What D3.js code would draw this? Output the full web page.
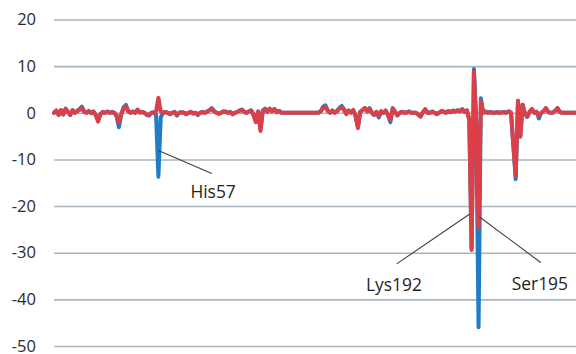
<!DOCTYPE html>
<html>
<head>
<meta charset="utf-8">
<script src="https://cdn.jsdelivr.net/npm/d3@7"></script>
<style>
  html, body { margin: 0; padding: 0; background: #fff; }
  svg { display: block; }
</style>
</head>
<body>
<div id="chart"></div>
<script>
// Residue numbers (x axis, chymotrypsin numbering) 12..240
const residueStart = 12;
// Series 1 (blue)
const seriesBlue = [
  // 12-21
  0, 0.4, -0.5, 0.5, -0.4, 0.9, 0.2, -0.5, 0.6, 0,
  // 22-31
  0.4, 0.8, 1.3, 0.3, 0, 0.4, -0.1, 0.3, -0.5, -1.6,
  // 32-41
  -0.3, 0.1, 0, 0.3, 0, 0.2, 0, -0.8, -3.1, -0.4,
  // 42-51
  1.2, 1.7, 0.4, 0, 0.3, 0, 0.7, 0.1, 0.2, 0,
  // 52-61
  -0.5, -0.6, 0, 0.1, -0.5, -13.7, -1.0, 0, 0.2, 0,
  // 62-71
  -0.3, 0, 0.2, -0.6, 0, 0.1, 0, -0.3, 0, 0.2,
  // 72-81
  -0.2, 0, -0.5, 0, 0.2, 0, 0.3, 0.6, 1.0, 0.4,
  // 82-91
  0, -0.2, 0, 0.3, 0.3, 0, 0.2, -0.3, 0, 0.2,
  // 92-101
  0.5, 0.7, 0.2, 0, 0.3, 0.5, -0.4, -1.8, 0.3, -3.6,
  // 102-111
  0.5, 0.9, 0.3, 0.9, 0.4, 0.8, 0.2, 0.4, 0, 0,
  // 112-121
  0, 0, 0, 0, 0, 0, 0, 0, 0, 0,
  // 122-131
  0, 0, 0, 0, 0, 0.4, 1.3, 1.6, 0.5, 0,
  // 132-141
  0.5, 0, 0.4, 1.0, 1.5, 0.8, -0.2, 0.5, 0.1, 0.5,
  // 142-151
  -0.6, -3.0, 0.2, 0.6, 1.0, 0.3, 1.0, 0, -0.5, 0.2,
  // 152-161
  -1.0, 0.3, 0, 0.5, -0.6, -2.0, 1.0, 0.2, -0.6, 0,
  // 162-171
  0.2, 0, 0.1, 0.3, 0, 0, 0, -0.4, -0.8, 0.1,
  // 172-181
  0.8, 0, 0, 0.3, 0, -0.3, 0, 0.4, 0.3, 0,
  // 182-191
  0.4, 0.2, 0.5, 0.3, 0.5, 0.4, 0.8, 0.2, 0.5, -1.5,
  // 192-201
  -29.0, 9.4, -2.0, -46.0, 3.1, 0, 0.3, 0, 0.2, 0,
  // 202-211
  0, 0.1, 0, 0.1, 0.2, 0, 0.3, 0, -7.0, -14.2,
  // 212-221
  2.6, -5.1, 1.7, -0.2, -0.9, 0.2, 0.8, 0, 0.2, -1.2,
  // 222-231
  0, 0.3, 1.0, 0.2, 0, 0, 0.4, 1.0, 0.2, 0,
  // 232-240
  0, 0, 0, 0, 0, 0, 0, 0, 0
];
// Series 2 (red)
const seriesRed = [
  // 12-21
  0, 0.5, -0.4, 0.6, -0.3, 0.8, 0.2, -0.4, 0.5, 0,
  // 22-31
  0.3, 0.6, 1.0, 0.2, 0, 0.3, 0, 0.2, -0.5, -1.9,
  // 32-41
  -0.3, 0.2, 0, 0.2, 0, 0.1, 0, -0.6, -2.1, -0.2,
  // 42-51
  0.8, 1.4, 0.3, 0, 0.2, 0, 0.6, 0, 0.1, 0,
  // 52-61
  -0.3, -0.5, 0, 0, 0.3, 3.2, 0.3, 0, 0.1, 0,
  // 62-71
  -0.2, 0, 0.1, -0.4, 0, 0.1, 0, -0.2, 0, 0.2,
  // 72-81
  -0.1, 0, -0.3, 0, 0.1, 0, 0.2, 0.5, 0.8, 0.3,
  // 82-91
  0, -0.2, 0, 0.3, 0.2, 0, 0.1, -0.3, 0, 0.2,
  // 92-101
  0.4, 0.6, 0.2, 0, 0.3, 0.5, -0.5, -2.0, 0.2, -3.9,
  // 102-111
  0.3, 0.8, 0.2, 0.7, 0.3, 0.8, 0.1, 0.4, 0, 0,
  // 112-121
  0, 0, 0, 0, 0, 0, 0, 0, 0, 0,
  // 122-131
  0, 0, 0, 0, 0, 0.3, 1.0, 1.3, 0.4, 0,
  // 132-141
  0.4, 0, 0.3, 0.9, 1.2, 0.6, -0.3, 0.4, 0, 0.6,
  // 142-151
  -0.8, -3.3, 0.2, 0.6, 1.0, 0.3, 0.9, 0, -0.4, 0.2,
  // 152-161
  -0.7, 0.3, 0, 0.4, -0.5, -1.5, 0.9, 0.2, -0.5, 0,
  // 162-171
  0.2, 0, 0, 0.2, 0, 0, 0, -0.3, -0.8, 0.1,
  // 172-181
  0.7, 0, 0, 0.2, 0, -0.2, 0, 0.3, 0.2, 0,
  // 182-191
  0.3, 0.1, 0.4, 0.3, 0.5, 0.3, 0.7, 0.2, 0.5, -1.5,
  // 192-201
  -29.4, 8.8, -2.0, -24.7, 2.5, 0, 0.2, 0, 0.1, 0,
  // 202-211
  0, 0.1, 0, 0, 0.1, 0, 0.3, 0, -7.0, -13.5,
  // 212-221
  2.6, -5.1, 1.7, -0.2, -0.8, 0.2, 0.8, 0, 0.2, -0.6,
  // 222-231
  0, 0.3, 1.0, 0.2, 0, 0, 0.4, 1.0, 0.2, 0,
  // 232-240
  0, 0, 0, 0, 0, 0, 0, 0, 0
];
const yTicks = [20, 10, 0, -10, -20, -30, -40, -50];
const annotations = [
  { label: "His57",  ax: 57,    ay: -8.1,  bx: 80,    by: -13.0, tx: 70.8,  ty: -18.3 },
  { label: "Lys192", ax: 191.2, ay: -21.7, bx: 159.7, by: -32.4, tx: 146.5, ty: -38.2 },
  { label: "Ser195", ax: 195.3, ay: -22.3, bx: 221.8, by: -32.1, tx: 209.3, ty: -37.9 }
];

const W = 576, H = 354;
const svg = d3.select("#chart").append("svg").attr("width", W).attr("height", H);

const x = d3.scaleLinear().domain([12, 237]).range([54, 576]);
const y = d3.scaleLinear().domain([-50, 20]).range([346, 19.5]);

// gridlines + labels
const axis = d3.axisLeft(y).tickValues(yTicks).tickSize(-(576 - 54)).tickPadding(18).tickFormat(d3.format("d"));
const gAxis = svg.append("g").attr("transform", "translate(54,0)").call(axis);
gAxis.select(".domain").remove();
gAxis.selectAll(".tick line").attr("stroke", "#a7b6c1").attr("stroke-width", 1.6);
gAxis.selectAll(".tick text")
  .attr("fill", "#2b2b2b")
  .style("font-family", "'Open Sans', sans-serif")
  .style("font-size", "16.5px")
  .style("font-weight", "500")
  .text(d => d < 0 ? "-" + Math.abs(d) : d);

const mk = arr => arr.map((v, i) => ({ r: residueStart + i, v }));
const line = d3.line().x(d => x(d.r)).y(d => y(d.v)).curve(d3.curveLinear);

svg.append("path").datum(mk(seriesBlue))
  .attr("d", line).attr("fill", "none")
  .attr("stroke", "#1f7cc6").attr("stroke-width", 4)
  .attr("stroke-linejoin", "round").attr("stroke-linecap", "round");
svg.append("path").datum(mk(seriesRed))
  .attr("d", line).attr("fill", "none")
  .attr("stroke", "#dc3f47").attr("stroke-width", 4)
  .attr("stroke-linejoin", "round").attr("stroke-linecap", "round");

// annotations
const ga = svg.append("g");
annotations.forEach(a => {
  ga.append("line")
    .attr("x1", x(a.ax)).attr("y1", y(a.ay))
    .attr("x2", x(a.bx)).attr("y2", y(a.by))
    .attr("stroke", "#404040").attr("stroke-width", 1.1);
  ga.append("text")
    .attr("x", x(a.tx)).attr("y", y(a.ty))
    .attr("fill", "#1f1f1f")
    .style("font-family", "'Open Sans', sans-serif")
    .style("font-size", "17.4px")
    .text(a.label);
});
</script>
</body>
</html>
